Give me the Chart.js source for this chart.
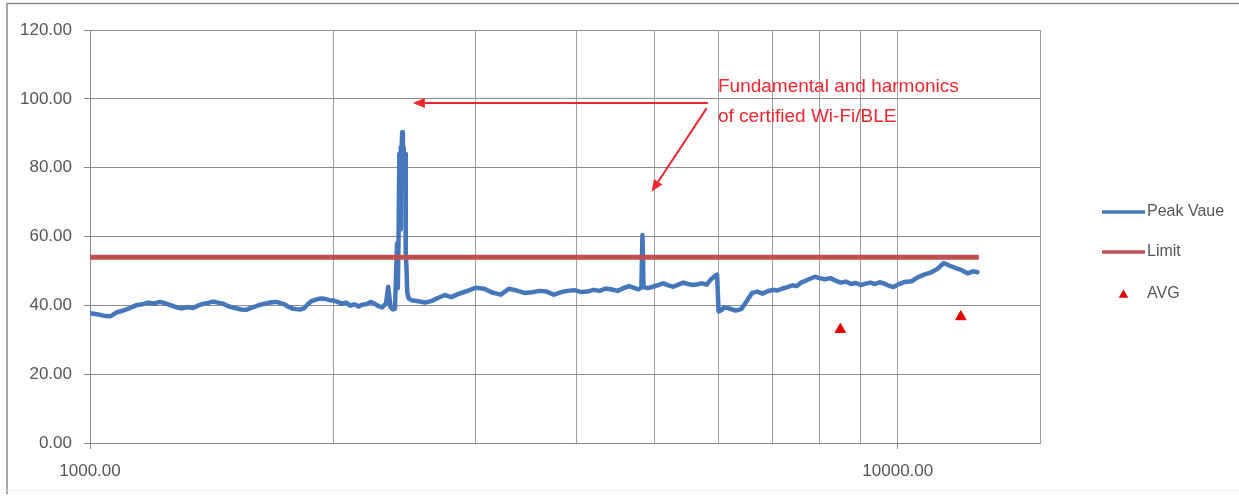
<!DOCTYPE html>
<html>
<head>
<meta charset="utf-8">
<script src="https://cdn.jsdelivr.net/npm/chart.js@4.4.1/dist/chart.umd.min.js"></script>
<style>
  html, body { margin: 0; padding: 0; background: #ffffff; }
  #wrap { position: relative; width: 1239px; height: 497px; }
</style>
</head>
<body>
<div id="wrap"><canvas id="c" width="1239" height="497"></canvas></div>
<script>
// Frequency sweep (MHz) and measured peak level
const peakFreq = [
  1000, 1020, 1040, 1060, 1080, 1100, 1120, 1140, 1160, 1180, 1200, 1220, 1240, 1260, 1280, 1300,
  1320, 1340, 1360, 1380, 1400, 1420, 1440, 1460, 1480, 1500, 1520, 1540, 1560, 1580, 1600, 1620,
  1640, 1660, 1680, 1700, 1720, 1740, 1760, 1780, 1800, 1820, 1840, 1860, 1880, 1900, 1920, 1940,
  1960, 1980, 2000,
  2025, 2050, 2075, 2100, 2125, 2150, 2175, 2200, 2225, 2250, 2275, 2300, 2325, 2340, 2355, 2370,
  2385, 2395, 2400, 2405, 2410, 2415, 2420, 2425, 2430, 2435, 2440, 2445, 2450, 2455, 2460, 2465,
  2470, 2480, 2500,
  2550, 2600, 2650, 2700, 2750, 2800, 2850, 2900, 2950, 3000, 3075, 3150, 3225, 3300, 3375, 3450,
  3525, 3600, 3675, 3750, 3825, 3900, 3975, 4050, 4125, 4200, 4275, 4350, 4425, 4500, 4575, 4650,
  4725, 4775, 4815, 4830, 4845, 4900,
  4975, 5050, 5125, 5200, 5275, 5350, 5425, 5500, 5575, 5650, 5725, 5800, 5875, 5950, 5975, 6000,
  6050, 6100, 6200, 6300, 6400, 6500, 6600, 6700, 6800, 6900, 7000, 7100, 7200, 7300, 7400, 7500,
  7600, 7700, 7800, 7900, 8000, 8125, 8250, 8375, 8500, 8625, 8750, 8875, 9000, 9125, 9250, 9375,
  9500, 9625, 9750, 9875, 10000, 10200, 10400, 10600, 10800, 11000, 11200, 11400, 11600, 11800,
  12000, 12200, 12400, 12550
];
const peakValue = [
  37.7, 37.4, 37.0, 36.8, 38.0, 38.5, 39.2, 40.0, 40.3, 40.8, 40.5, 41.0, 40.6, 40.0, 39.4, 39.1,
  39.5, 39.2, 39.9, 40.4, 40.7, 41.1, 40.8, 40.5, 39.8, 39.4, 39.1, 38.8, 38.7, 39.2, 39.6, 40.1,
  40.4, 40.7, 40.9, 41.0, 40.7, 40.3, 39.6, 39.1, 38.9, 38.8, 39.1, 40.3, 41.2, 41.6, 41.9, 42.0,
  41.8, 41.5, 41.4,
  41.0, 40.5, 40.8, 39.9, 40.3, 39.7, 40.2, 40.4, 41.0, 40.5, 39.8, 39.4, 40.5, 45.4, 39.5, 38.8,
  39.0, 52.0, 58.0, 45.0, 60.0, 84.0, 62.0, 86.0, 84.0, 90.3, 85.0, 86.0, 78.0, 84.0, 55.0, 51.0,
  44.0, 42.0, 41.5,
  41.2, 40.8, 41.3, 42.2, 43.0, 42.4, 43.2, 43.8, 44.4, 45.1, 44.8, 43.7, 43.1, 44.8, 44.3, 43.6,
  43.8, 44.2, 44.0, 43.1, 43.8, 44.2, 44.4, 43.9, 44.0, 44.5, 44.2, 44.9, 44.6, 44.2, 45.0, 45.6,
  45.0, 44.6, 45.2, 60.4, 45.3, 45.0,
  45.4, 45.9, 46.4, 45.8, 45.4, 46.0, 46.6, 46.2, 45.9, 46.1, 46.4, 46.0, 47.6, 48.7, 48.9, 38.2,
  38.6, 39.5, 39.0, 38.5, 38.9, 41.2, 43.6, 44.0, 43.4, 44.1, 44.5, 44.3, 44.9, 45.3, 45.8, 45.6,
  46.7, 47.2, 47.8, 48.3, 47.9, 47.6, 47.9, 47.2, 46.6, 46.9, 46.2, 46.5, 45.9, 46.3, 46.6, 46.2,
  46.7, 46.3, 45.7, 45.3, 46.0, 46.8, 47.0, 48.2, 49.0, 49.6, 50.6, 52.3, 51.5, 50.8,
  50.2, 49.3, 49.9, 49.6
];

// Limit line
const limitFreq = [1000, 12600];
const limitValue = [54, 54];

// Average detector readings
const avgFreq = [8490, 11970];
const avgValue = [33.0, 36.7];

// Axis ticks
const xGridTicks = [1000, 2000, 3000, 4000, 5000, 6000, 7000, 8000, 9000, 10000];
const xLabelTicks = [1000, 10000];
const yTicks = [0, 20, 40, 60, 80, 100, 120];

const seriesNames = ['Peak Vaue', 'Limit', 'AVG'];
const noteLines = ['Fundamental and harmonics', 'of certified Wi-Fi/BLE'];

// Annotation anchors in data coordinates (MHz, level)
const noteTextAt = { x: 5990, y: [103.6, 94.8] };
const noteArrows = [
  { from: [5820, 98.8], to: [2510, 98.8] },
  { from: [5800, 97.3], to: [4957, 73.0] }
];

const BLUE = '#4677ba';
const RED_LIMIT = '#c0504d';
const RED_MARK = '#e00000';
const NOTE_RED = '#ee2630';
const TEXT = '#555555';
const FONT = '"Liberation Sans", Arial, sans-serif';

const toPoints = (xs, ys) => xs.map((x, i) => ({ x, y: ys[i] }));

// Outer frame and plot-area right edge
const framePlugin = {
  id: 'frame',
  beforeDraw(chart) {
    const { ctx } = chart;
    ctx.save();
    ctx.fillStyle = '#ffffff';
    ctx.fillRect(0, 0, chart.width, chart.height);
    ctx.strokeStyle = '#8a8a8a';
    ctx.lineWidth = 1.5;
    ctx.beginPath();
    ctx.moveTo(7, 494);
    ctx.lineTo(7, 3.5);
    ctx.lineTo(chart.width, 3.5);
    ctx.stroke();
    ctx.strokeStyle = '#ececec';
    ctx.lineWidth = 1;
    ctx.beginPath();
    ctx.moveTo(7, 490.5);
    ctx.lineTo(chart.width, 490.5);
    ctx.stroke();
    ctx.restore();
  },
  beforeDatasetsDraw(chart) {
    const { ctx, chartArea: a } = chart;
    ctx.save();
    ctx.strokeStyle = '#9a9a9a';
    ctx.lineWidth = 1;
    ctx.beginPath();
    ctx.moveTo(Math.round(a.right) + 0.5, a.top);
    ctx.lineTo(Math.round(a.right) + 0.5, a.bottom);
    ctx.stroke();
    ctx.restore();
  }
};

function drawArrow(ctx, x1, y1, x2, y2) {
  const ang = Math.atan2(y2 - y1, x2 - x1);
  const len = 12, half = 5;
  const bx = x2 - Math.cos(ang) * len, by = y2 - Math.sin(ang) * len;
  ctx.beginPath();
  ctx.moveTo(x1, y1);
  ctx.lineTo(bx, by);
  ctx.stroke();
  ctx.beginPath();
  ctx.moveTo(x2, y2);
  ctx.lineTo(bx + Math.sin(ang) * half, by - Math.cos(ang) * half);
  ctx.lineTo(bx - Math.sin(ang) * half, by + Math.cos(ang) * half);
  ctx.closePath();
  ctx.fill();
}

// Callout text with arrows
const notePlugin = {
  id: 'note',
  afterDatasetsDraw(chart) {
    const { ctx, scales: { x, y } } = chart;
    ctx.save();
    ctx.fillStyle = NOTE_RED;
    ctx.strokeStyle = NOTE_RED;
    ctx.lineWidth = 2;
    ctx.font = '19px ' + FONT;
    ctx.textAlign = 'left';
    ctx.textBaseline = 'middle';
    noteLines.forEach((t, i) => {
      ctx.fillText(t, x.getPixelForValue(noteTextAt.x), y.getPixelForValue(noteTextAt.y[i]));
    });
    noteArrows.forEach(a => drawArrow(ctx,
      x.getPixelForValue(a.from[0]), y.getPixelForValue(a.from[1]),
      x.getPixelForValue(a.to[0]), y.getPixelForValue(a.to[1])));
    ctx.restore();
  }
};

// Legend to the right of the plot
const legendPlugin = {
  id: 'sideLegend',
  afterDraw(chart) {
    const { ctx } = chart;
    const x0 = 1102, x1 = 1145, tx = 1147;
    const rows = [212, 252, 294];
    ctx.save();
    ctx.font = '16px ' + FONT;
    ctx.textBaseline = 'middle';
    ctx.textAlign = 'left';
    chart.data.datasets.forEach((ds, i) => {
      const yy = rows[i];
      if (ds.showLine === false) {
        ctx.fillStyle = ds.pointBackgroundColor;
        const r = 5.5, cx = (x0 + x1) / 2, cy = yy + 1;
        ctx.beginPath();
        ctx.moveTo(cx, cy - r);
        ctx.lineTo(cx + r * 0.866, cy + r / 2);
        ctx.lineTo(cx - r * 0.866, cy + r / 2);
        ctx.closePath();
        ctx.fill();
      } else {
        ctx.strokeStyle = ds.borderColor;
        ctx.lineWidth = 3.5;
        ctx.beginPath();
        ctx.moveTo(x0, yy);
        ctx.lineTo(x1, yy);
        ctx.stroke();
      }
      ctx.fillStyle = TEXT;
      ctx.fillText(ds.label, tx, yy);
    });
    ctx.restore();
  }
};

new Chart(document.getElementById('c'), {
  type: 'line',
  data: {
    datasets: [
      {
        label: seriesNames[0],
        data: toPoints(peakFreq, peakValue),
        borderColor: BLUE,
        backgroundColor: BLUE,
        borderWidth: 4.5,
        borderJoinStyle: 'round',
        borderCapStyle: 'round',
        pointRadius: 0,
        tension: 0,
        order: 2
      },
      {
        label: seriesNames[1],
        data: toPoints(limitFreq, limitValue),
        borderColor: RED_LIMIT,
        backgroundColor: RED_LIMIT,
        borderWidth: 5,
        pointRadius: 0,
        tension: 0,
        order: 1
      },
      {
        label: seriesNames[2],
        data: toPoints(avgFreq, avgValue),
        showLine: false,
        pointStyle: 'triangle',
        pointRadius: 6,
        pointBorderWidth: 1,
        pointBackgroundColor: RED_MARK,
        pointBorderColor: RED_MARK,
        backgroundColor: RED_MARK,
        borderColor: RED_MARK,
        order: 0
      }
    ]
  },
  options: {
    responsive: false,
    animation: false,
    devicePixelRatio: 1,
    layout: { padding: { left: 0, top: 30, right: 199, bottom: 0 } },
    plugins: {
      legend: { display: false },
      tooltip: { enabled: false }
    },
    scales: {
      x: {
        type: 'logarithmic',
        min: 1000,
        max: 15000,
        afterBuildTicks: s => { s.ticks = xGridTicks.map(v => ({ value: v })); },
        afterFit: s => { s.height = 54; },
        grid: {
          color: '#a0a0a0',
          lineWidth: 1,
          tickLength: 6,
          tickColor: c => (c.tick && xLabelTicks.includes(c.tick.value)) ? '#8a8a8a' : 'rgba(0,0,0,0)'
        },
        border: { color: '#8a8a8a', width: 1 },
        ticks: {
          autoSkip: false,
          maxRotation: 0,
          padding: 12,
          color: TEXT,
          font: { family: FONT, size: 17 },
          callback: v => xLabelTicks.includes(v) ? v.toFixed(2) : ''
        }
      },
      y: {
        type: 'linear',
        min: 0,
        max: 120,
        afterBuildTicks: s => { s.ticks = yTicks.map(v => ({ value: v })); },
        afterFit: s => { s.width = 90; },
        grid: { color: '#8c8c8c', lineWidth: 1, tickLength: 6, tickColor: '#8a8a8a' },
        border: { color: '#8a8a8a', width: 1 },
        ticks: {
          padding: 12,
          color: TEXT,
          font: { family: FONT, size: 17 },
          callback: v => Number(v).toFixed(2)
        }
      }
    }
  },
  plugins: [framePlugin, notePlugin, legendPlugin]
});
</script>
</body>
</html>
